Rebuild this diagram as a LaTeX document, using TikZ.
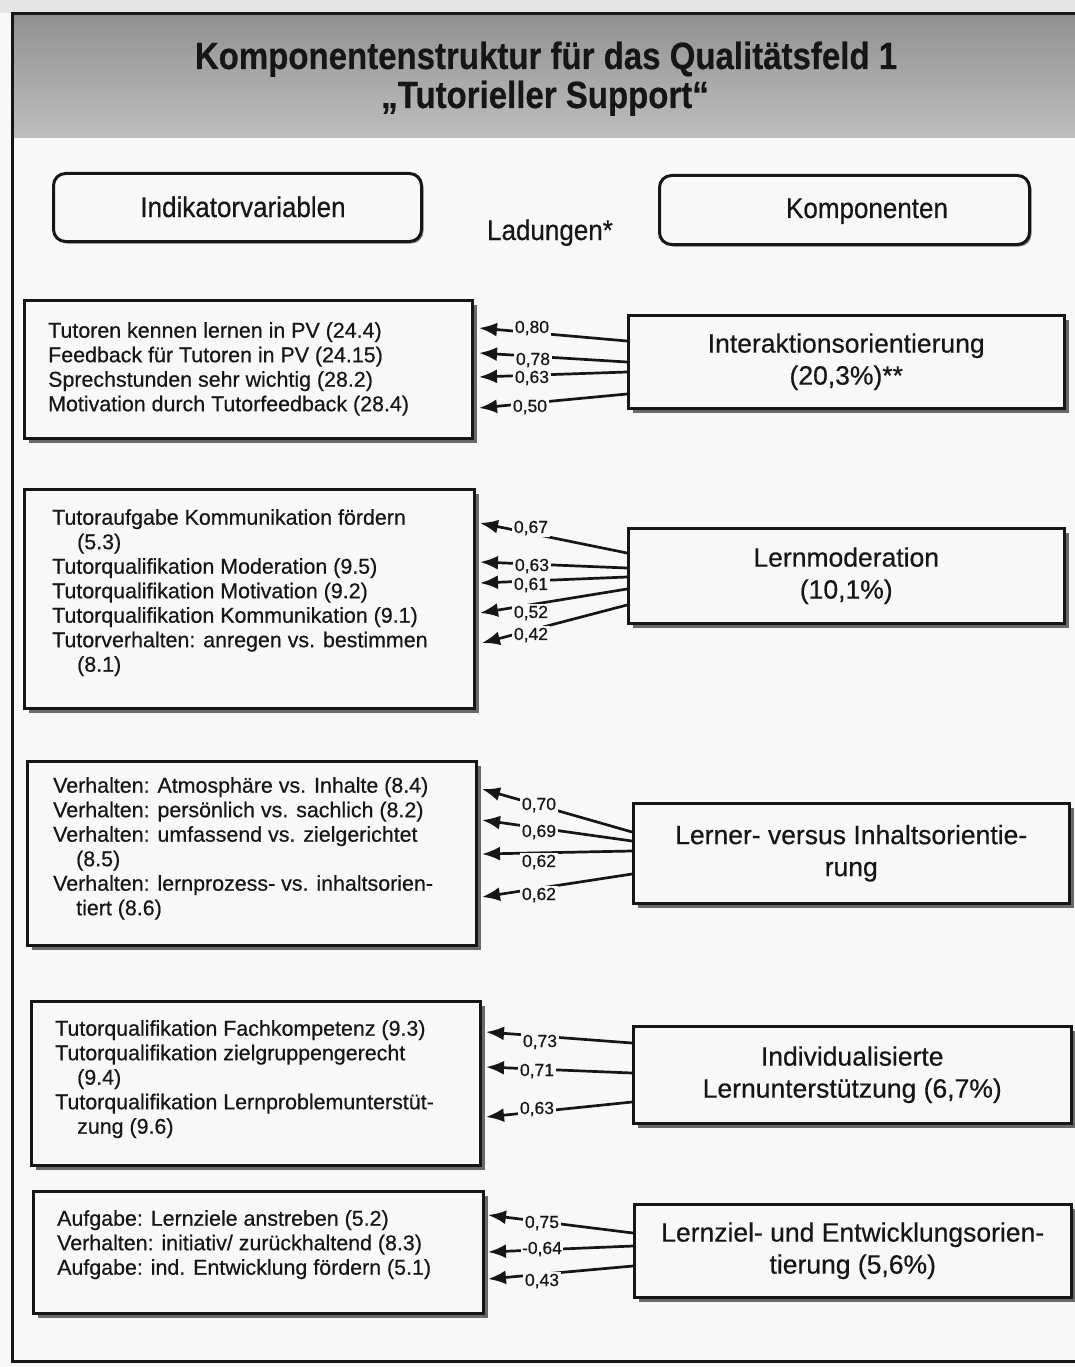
\documentclass[tikz,border=0pt]{standalone}
\usepackage{fontspec}
\setmainfont{Liberation Sans}[FakeBold=0.5]
\usetikzlibrary{shadows,arrows.meta}
\definecolor{paper}{RGB}{248,248,248}
\definecolor{ink}{RGB}{22,22,22}
\definecolor{hdtop}{RGB}{145,145,145}
\definecolor{hdbot}{RGB}{190,190,190}
\definecolor{shade}{RGB}{90,90,90}
\begin{document}
\begin{tikzpicture}[x=1pt,y=-1pt,
  lbox/.style={draw=ink,line width=2.5pt,fill=paper,anchor=north west,inner sep=0pt,
    drop shadow={shadow xshift=5pt,shadow yshift=-5pt,fill=shade,opacity=0.9}},
  rbox/.style={lbox,align=center,font=\fontsize{26.5}{32}\selectfont,text=ink},
  ltext/.style={anchor=north west,inner sep=0pt,align=left,font=\fontsize{21.4}{24.5}\selectfont,text=ink},
  hbox/.style={draw=ink,line width=3pt,rounded corners=12pt,fill=paper,anchor=north west,inner sep=0pt,
    drop shadow={shadow xshift=2pt,shadow yshift=-2pt,fill=shade,opacity=0.7}},
  htext/.style={anchor=base,inner sep=0pt,font=\fontsize{26}{30}\selectfont,text=ink},
  ttext/.style={anchor=base,inner sep=0pt,font=\bfseries\fontsize{33}{40}\selectfont,text=ink},
  load/.style={fill=paper,inner sep=1.5pt,font=\fontsize{17.5}{17.5}\selectfont,text=ink},
  conn/.style={draw=ink,line width=2.7pt,-{Latex[length=18pt,width=14pt]}}]

\fill[paper] (0,0) rectangle (1075,1367);
\useasboundingbox (0,0) rectangle (1075,1367);
\fill[gray!20] (0,0) rectangle (1075,13);
\shade[top color=hdtop,bottom color=hdbot] (12,14) rectangle (1075,138);
\draw[ink,line width=3pt] (1075,14) -- (12,14) -- (12,1361) -- (1075,1361);

% title
\node[ttext] (title1) at (546,69) {\scalebox{1}[1.15]{Komponentenstruktur für das Qualitätsfeld 1}};
\node[ttext] (title2) at (545,108) {\scalebox{1}[1.15]{„Tutorieller Support“}};

% header boxes
\node[hbox,minimum width=368pt,minimum height=68pt] (H1) at (52,172) {};
\node[hbox,minimum width=370pt,minimum height=69pt] (H2) at (658,174) {};
\node[htext] (H1t) at (243,217) {\scalebox{1}[1.1]{Indikatorvariablen}};
\node[htext] (H2t) at (867,218) {\scalebox{1}[1.1]{Komponenten}};
\node[htext] (Lad) at (550,240) {\scalebox{1}[1.1]{Ladungen*}};

% left boxes
\node[lbox,minimum width=448pt,minimum height=138pt] (L1) at (23,299) {};
\node[lbox,minimum width=450pt,minimum height=219pt] (L2) at (23,488) {};
\node[lbox,minimum width=449pt,minimum height=184pt] (L3) at (26,760) {};
\node[lbox,minimum width=449pt,minimum height=164pt] (L4) at (30,1000) {};
\node[lbox,minimum width=450pt,minimum height=122pt] (L5) at (32,1190) {};

\node[ltext] (L1t) at (48,322) {Tutoren kennen lernen in PV (24.4)\\Feedback für Tutoren in PV (24.15)\\Sprechstunden sehr wichtig (28.2)\\Motivation durch Tutorfeedback (28.4)};
\node[ltext] (L2t) at (52,509) {Tutoraufgabe Kommunikation fördern\\\hspace*{25pt}(5.3)\\Tutorqualifikation Moderation (9.5)\\Tutorqualifikation Motivation (9.2)\\Tutorqualifikation Kommunikation (9.1)\\Tutorverhalten: anregen vs. bestimmen\\\hspace*{25pt}(8.1)};
\node[ltext] (L3t) at (53,777) {Verhalten: Atmosphäre vs. Inhalte (8.4)\\Verhalten: persönlich vs. sachlich (8.2)\\Verhalten: umfassend vs. zielgerichtet\\\hspace*{23pt}(8.5)\\Verhalten: lernprozess- vs. inhaltsorien-\\\hspace*{23pt}tiert (8.6)};
\node[ltext] (L4t) at (55,1020) {Tutorqualifikation Fachkompetenz (9.3)\\Tutorqualifikation zielgruppengerecht\\\hspace*{22pt}(9.4)\\Tutorqualifikation Lernproblemunterstüt-\\\hspace*{22pt}zung (9.6)};
\node[ltext] (L5t) at (57,1210) {Aufgabe: Lernziele anstreben (5.2)\\Verhalten: initiativ/ zurückhaltend (8.3)\\Aufgabe: ind. Entwicklung fördern (5.1)};

% right boxes
\node[rbox,minimum width=436pt,minimum height=93pt] (R1) at (627,314) {Interaktionsorientierung\\(20,3\%)**};
\node[rbox,minimum width=436pt,minimum height=95pt] (R2) at (627,527) {Lernmoderation\\(10,1\%)};
\node[rbox,minimum width=436pt,minimum height=100pt] (R3) at (632,802) {Lerner- versus Inhaltsorientie-\\rung};
\node[rbox,minimum width=438pt,minimum height=97pt] (R4) at (632,1025) {Individualisierte\\Lernunterstützung (6,7\%)};
\node[rbox,minimum width=437pt,minimum height=93pt] (R5) at (633,1203) {Lernziel- und Entwicklungsorien-\\tierung (5,6\%)};

% connectors
\foreach \i/\R/\sy/\tx/\ty/\lx/\ly/\v in {
  a/R1/341/479/328/532/328/{0,80},
  b/R1/362/479/353/533/360/{0,78},
  c/R1/372/479/377/532/378/{0,63},
  d/R1/394/479/408/530/407/{0,50},
  e/R2/553/480/523/531/528/{0,67},
  f/R2/568/480/562/532/566/{0,63},
  g/R2/577/480/583/531/585/{0,61},
  h/R2/589/480/613/531/613/{0,52},
  i/R2/605/482/643/531/635/{0,42},
  j/R3/832/482/789/539/805/{0,70},
  k/R3/841/482/820/539/832/{0,69},
  l/R3/851/482/854/539/862/{0,62},
  m/R3/874/482/897/539/895/{0,62},
  n/R4/1043/486/1032/540/1042/{0,73},
  o/R4/1073/486/1067/537/1071/{0,71},
  p/R4/1102/486/1117/537/1109/{0,63},
  q/R5/1233/488/1215/542/1223/{0,75},
  r/R5/1246/488/1252/542/1249/{-0,64},
  s/R5/1266/488/1279/542/1281/{0,43}}{
  \coordinate (s\i) at (\R.west |- 0,\sy);
  \coordinate (t\i) at (\tx,\ty);
  \draw[conn] (s\i) -- (t\i);
  \node[load] (w\i) at (\lx,\ly) {\v};
}
\end{tikzpicture}
\end{document}
